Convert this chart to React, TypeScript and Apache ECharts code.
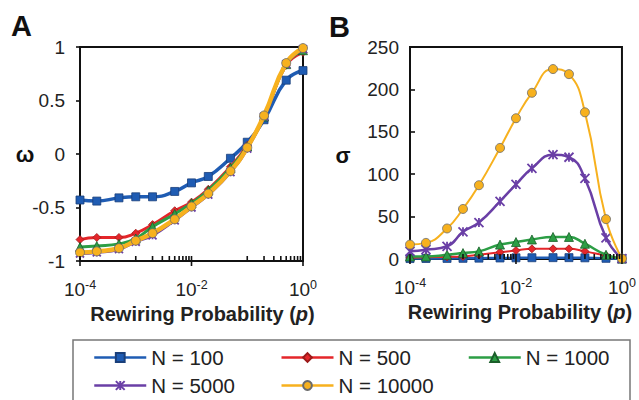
import React, { useEffect, useRef } from "react";
import * as echarts from "echarts";

const P = [1e-4, 2e-4, 5e-4, 1e-3, 2e-3, 5e-3, 0.01, 0.02, 0.05, 0.1, 0.2, 0.5, 1];

const NAMES = ["N = 100", "N = 500", "N = 1000", "N = 5000", "N = 10000"];

const OMEGA_100 = [-0.43, -0.44, -0.41, -0.4, -0.4, -0.35, -0.27, -0.21, -0.04, 0.11, 0.32, 0.69, 0.78];
const OMEGA_500 = [-0.8, -0.78, -0.78, -0.74, -0.66, -0.53, -0.45, -0.33, -0.12, 0.08, 0.35, 0.83, 0.95];
const OMEGA_1000 = [-0.87, -0.86, -0.84, -0.79, -0.68, -0.56, -0.46, -0.34, -0.13, 0.07, 0.35, 0.84, 0.97];
const OMEGA_5000 = [-0.93, -0.92, -0.89, -0.82, -0.76, -0.62, -0.5, -0.38, -0.17, 0.05, 0.35, 0.84, 0.98];
const OMEGA_10000 = [-0.92, -0.91, -0.88, -0.81, -0.74, -0.61, -0.49, -0.37, -0.16, 0.06, 0.36, 0.85, 0.99];

const SIGMA_100 = [0.5, 0.6, 0.7, 0.8, 1, 1.2, 1.4, 1.5, 1.6, 1.6, 1.4, 0.8, 0.2];
const SIGMA_500 = [1.5, 2, 2.5, 3, 5, 8, 10, 12, 12, 12, 9, 4, 0.3];
const SIGMA_1000 = [3, 3, 5, 7, 9, 17, 20, 23, 26, 26, 18, 5, 0.5];
const SIGMA_5000 = [9, 11, 15, 32, 43, 68, 88, 107, 123, 120, 95, 25, 0.5];
const SIGMA_10000 = [17, 19, 36, 59, 87, 131, 166, 196, 224, 218, 173, 47, 0.5];

const MAJOR_TICKS = [1e-4, 1e-2, 1];
const MINOR_TICKS = [
  0.001, 0.002, 0.003, 0.004, 0.005, 0.006, 0.007, 0.008, 0.009,
  0.1, 0.2, 0.3, 0.4, 0.5, 0.6, 0.7, 0.8, 0.9,
];

const FONT = "'Liberation Sans', Arial, sans-serif";
const TXT = "#222";

const STYLES = [
  { color: "#1f5cb3", border: "#1a3f7a", symbol: "rect", sizeA: 8, sizeB: 8, wA: 3.5, wB: 2.5 },
  { color: "#e4262a", border: "#9c1a1a", symbol: "diamond", sizeA: 8, sizeB: 8, wA: 3, wB: 2 },
  { color: "#2c9e45", border: "#1b5e2a", symbol: "triangle", sizeA: 9, sizeB: 9, wA: 3, wB: 2.5 },
  {
    color: "#6a3fa6",
    border: "#6a3fa6",
    symbol: "path://M0,0L10,10M10,0L0,10M5,0L5,10",
    sizeA: 8,
    sizeB: 9,
    wA: 3,
    wB: 2.5,
  },
  { color: "#f7b11e", border: "#6b6b6b", symbol: "circle", sizeA: 9, sizeB: 9, wA: 4.5, wB: 2 },
];

function pairs(ys: number[]) {
  return P.map((p, i) => [p, ys[i]]);
}

function tickSeries(xAxisIndex: number, yAxisIndex: number, ticks: number[], yBase: number, up: number, down: number) {
  return {
    type: "custom",
    xAxisIndex,
    yAxisIndex,
    silent: true,
    clip: false,
    z: 10,
    data: ticks.map((t) => [t, yBase]),
    renderItem: (params: any, api: any) => {
      const pt = api.coord([api.value(0), api.value(1)]);
      return {
        type: "line",
        shape: { x1: pt[0], y1: pt[1] + down, x2: pt[0], y2: pt[1] - up },
        style: { stroke: "#111", lineWidth: 1.6 },
      };
    },
  };
}

export default function App() {
  const ref = useRef<HTMLDivElement>(null);

  useEffect(() => {
    if (!ref.current) return;
    const chart = echarts.init(ref.current, undefined, { renderer: "svg" });

    const omegaSets = [OMEGA_100, OMEGA_500, OMEGA_1000, OMEGA_5000, OMEGA_10000];
    const sigmaSets = [SIGMA_100, SIGMA_500, SIGMA_1000, SIGMA_5000, SIGMA_10000];

    const lineSeries: any[] = [];
    omegaSets.forEach((ys, i) => {
      const s = STYLES[i];
      lineSeries.push({
        type: "line",
        name: NAMES[i],
        xAxisIndex: 0,
        yAxisIndex: 0,
        data: pairs(ys),
        smooth: true,
        symbol: s.symbol,
        symbolSize: s.sizeA,
        showSymbol: true,
        z: 3 + i,
        lineStyle: { color: s.color, width: s.wA },
        itemStyle: { color: s.color, borderColor: s.border, borderWidth: i === 3 ? 1.8 : 0.8 },
      });
    });
    sigmaSets.forEach((ys, i) => {
      const s = STYLES[i];
      lineSeries.push({
        type: "line",
        name: NAMES[i],
        xAxisIndex: 1,
        yAxisIndex: 1,
        data: pairs(ys),
        smooth: true,
        symbol: s.symbol,
        symbolSize: s.sizeB,
        showSymbol: true,
        z: 3 + i,
        lineStyle: { color: s.color, width: s.wB },
        itemStyle: { color: s.color, borderColor: s.border, borderWidth: i === 3 ? 1.8 : 0.8 },
      });
    });

    const xLabel = {
      fontSize: 19,
      color: TXT,
      fontFamily: FONT,
      margin: 17,
      formatter: (v: number) => {
        const e = Math.round(Math.log10(v));
        return e % 2 === 0 ? `{a|10}{b|${e}}` : "";
      },
      rich: {
        a: { fontSize: 19, lineHeight: 22, color: TXT, fontFamily: FONT },
        b: { fontSize: 12.5, lineHeight: 12, verticalAlign: "top", color: TXT, fontFamily: FONT },
      },
    };

    const xName = (padLeft: number) => ({
      name: "Rewiring Probability ({i|p})",
      nameLocation: "middle",
      nameGap: 43,
      nameTextStyle: {
        fontSize: 20,
        fontWeight: "bold",
        color: TXT,
        fontFamily: FONT,
        padding: [0, 0, 0, padLeft],
        rich: {
          i: { fontSize: 20, fontWeight: "bold", fontStyle: "italic", color: TXT, fontFamily: FONT },
        },
      },
    });

    const legendCommon = {
      orient: "horizontal",
      itemWidth: 52,
      itemHeight: 11,
      itemGap: 9,
      padding: 0,
      left: 93,
      width: 560,
      lineStyle: { width: 2.5 },
      textStyle: { fontSize: 20.5, color: TXT, fontFamily: FONT, width: 120, lineHeight: 20 },
      selectedMode: false,
    };

    const option: any = {
      animation: false,
      backgroundColor: "#fff",
      grid: [
        { left: 80, right: 336, top: 47, bottom: 139, show: true, borderColor: "#111", borderWidth: 2 },
        { left: 410, right: 16, top: 47, bottom: 141, show: true, borderColor: "#111", borderWidth: 2 },
      ],
      xAxis: [
        {
          type: "log",
          logBase: 10,
          gridIndex: 0,
          min: 1e-4,
          max: 1,
          axisLine: { show: true, onZero: false, lineStyle: { color: "#111", width: 2 } },
          axisTick: { show: false },
          splitLine: { show: false },
          axisLabel: xLabel,
          ...xName(22),
        },
        {
          type: "log",
          logBase: 10,
          gridIndex: 1,
          min: 1e-4,
          max: 1,
          axisLine: { show: true, onZero: false, lineStyle: { color: "#111", width: 2 } },
          axisTick: { show: false },
          splitLine: { show: false },
          axisLabel: xLabel,
          ...xName(8),
        },
      ],
      yAxis: [
        {
          type: "value",
          gridIndex: 0,
          min: -1,
          max: 1,
          interval: 0.5,
          axisLine: { show: true, onZero: false, lineStyle: { color: "#111", width: 2 } },
          axisTick: { show: true, inside: false, length: 4, lineStyle: { color: "#111", width: 1.6 } },
          splitLine: { show: false },
          axisLabel: { fontSize: 19, color: TXT, fontFamily: FONT, margin: 15 },
        },
        {
          type: "value",
          gridIndex: 1,
          min: 0,
          max: 250,
          interval: 50,
          axisLine: { show: true, onZero: false, lineStyle: { color: "#111", width: 2 } },
          axisTick: { show: true, inside: true, length: 5, lineStyle: { color: "#111", width: 1.6 } },
          splitLine: { show: false },
          axisLabel: { fontSize: 19, color: TXT, fontFamily: FONT, margin: 11 },
        },
      ],
      legend: [
        { ...legendCommon, top: 347, data: NAMES.slice(0, 3) },
        { ...legendCommon, top: 375, data: NAMES.slice(3) },
      ],
      graphic: [
        {
          type: "text",
          left: 11,
          top: 11,
          style: { text: "A", fontSize: 29, fontWeight: "bold", fill: "#111", fontFamily: FONT },
        },
        {
          type: "text",
          left: 329,
          top: 12,
          style: { text: "B", fontSize: 29, fontWeight: "bold", fill: "#111", fontFamily: FONT },
        },
        {
          type: "text",
          x: 25,
          y: 154,
          style: {
            text: "ω",
            fontSize: 22,
            fontWeight: "bold",
            fill: "#111",
            fontFamily: FONT,
            align: "center",
            verticalAlign: "middle",
          },
        },
        {
          type: "text",
          x: 343,
          y: 155,
          style: {
            text: "σ",
            fontSize: 22,
            fontWeight: "bold",
            fill: "#111",
            fontFamily: FONT,
            align: "center",
            verticalAlign: "middle",
          },
        },
        {
          type: "rect",
          shape: { x: 73, y: 340, width: 557, height: 80 },
          style: { fill: "none", stroke: "#777", lineWidth: 1.5 },
          z: -1,
        },
      ],
      series: [
        tickSeries(0, 0, MAJOR_TICKS, -1, 5, 5),
        tickSeries(0, 0, MINOR_TICKS, -1, 5, 0),
        tickSeries(1, 1, MAJOR_TICKS, 0, 5, 5),
        tickSeries(1, 1, MINOR_TICKS, 0, 5, 0),
        ...lineSeries,
      ],
    };

    chart.setOption(option);
    return () => chart.dispose();
  }, []);

  return <div ref={ref} style={{ width: 639, height: 400, position: "absolute", left: 0, top: 0 }} />;
}
